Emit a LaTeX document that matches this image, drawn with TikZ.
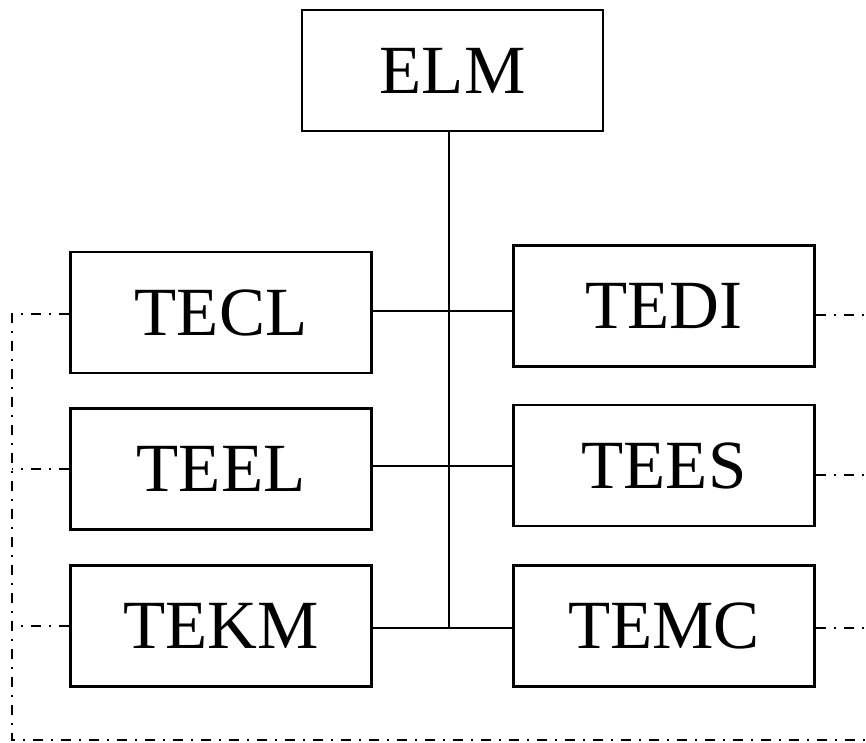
\documentclass[tikz,border=0pt]{standalone}
\usepackage{fontspec}
\setmainfont{Liberation Serif}

\begin{document}
\begin{tikzpicture}[x=1pt,y=-1pt]
  \def\lx{221}
  \def\rx{664}

\tikzstyle{unit}=[draw,line width=2.4pt,minimum width=301pt,minimum height=121pt,inner sep=0pt,font=\fontsize{69}{71}\selectfont]
\tikzstyle{link}=[line width=2.4pt]
\tikzstyle{bus}=[line width=1.4pt,dash pattern=on 10pt off 8pt on 2pt off 8pt]
\useasboundingbox (0,0) rectangle (866,742);
% units
\node[unit] (ELM) at (452.5,70.5) {ELM};
\node[unit] (TECL) at (\lx,312.5) {TECL};
\node[unit] (TEEL) at (\lx,469) {TEEL};
\node[unit] (TEKM) at (\lx,626) {TEKM};
\node[unit] (TEDI) at (\rx,306) {TEDI};
\node[unit] (TEES) at (\rx,465.5) {TEES};
\node[unit] (TEMC) at (\rx,626) {TEMC};
% trunk
\coordinate (J1) at (449,311);
\coordinate (J2) at (449,466);
\coordinate (J3) at (449,628);
\draw[link] (ELM.south -| J3) -- (J3);
\draw[link] (TECL.east |- J1) -- (TEDI.west |- J1);
\draw[link] (TEEL.east |- J2) -- (TEES.west |- J2);
\draw[link] (TEKM.east |- J3) -- (TEMC.west |- J3);
% bus
\coordinate (B1) at (12,314);
\coordinate (B2) at (12,740);
\coordinate (B3) at (866,740);
\draw[bus] (TECL.west |- B1) -- (B1) -- (B2) -- (B3);
\draw[bus] (TEEL.west) -- (TEEL.west -| B1);
\draw[bus] (TEKM.west) -- (TEKM.west -| B1);
\draw[bus] ([yshift=-9pt]TEDI.east) -- ++(52,0);
\draw[bus] ([yshift=-9.5pt]TEES.east) -- ++(52,0);
\draw[bus] ([yshift=-2pt]TEMC.east) -- ++(52,0);
\end{tikzpicture}
\end{document}
